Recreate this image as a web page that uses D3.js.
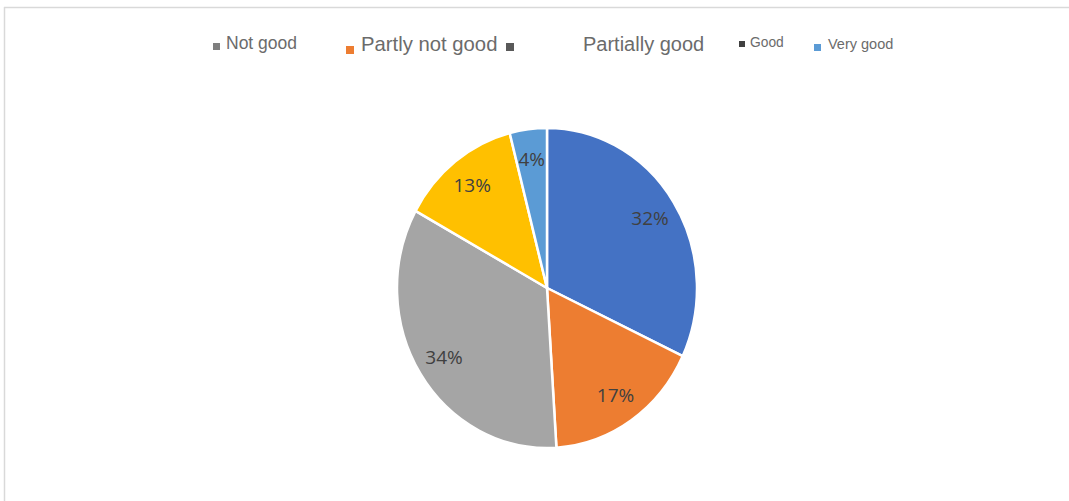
<!DOCTYPE html>
<html>
<head>
<meta charset="utf-8">
<script src="https://cdn.jsdelivr.net/npm/d3@7"></script>
<style>
  body { margin: 0; background: #fff; }
  svg { display: block; }
</style>
</head>
<body>
<svg id="chart"></svg>
<script>
const categories = ["Good", "Partly not good", "Not good", "Partially good", "Very good"];
const values = [32, 17, 34, 13, 4];
const sliceColors = ["#4472C4", "#ED7D31", "#A5A5A5", "#FFC000", "#5B9BD5"];

const legendLabels = ["Not good", "Partly not good", "", "Partially good", "Good", "Very good"];
const legendMarkerColors = ["#7f7f7f", "#ED7D31", "#595959", null, "#404040", "#5B9BD5"];

const width = 1069;
const height = 501;
const svg = d3.select("#chart").attr("width", width).attr("height", height);

// frame (only top and left edges show in the picture)
svg.append("line").attr("x1", 4).attr("y1", 7.5).attr("x2", width).attr("y2", 7.5)
  .attr("stroke", "#d9d9d9").attr("stroke-width", 1.5);
svg.append("line").attr("x1", 4.5).attr("y1", 7).attr("x2", 4.5).attr("y2", height)
  .attr("stroke", "#d9d9d9").attr("stroke-width", 1.5);

// pie
const cx = 547, cy = 288, r = 150, yStretch = 160 / 150;
const pie = d3.pie().sort(null).value((d) => d)(values);
const arc = d3.arc().innerRadius(0).outerRadius(r);
const labelArc = d3.arc().innerRadius(122).outerRadius(122);

const g = svg.append("g").attr("transform", `translate(${cx},${cy}) scale(1,${yStretch})`);
g.selectAll("path")
  .data(pie)
  .join("path")
  .attr("d", arc)
  .attr("fill", (d, i) => sliceColors[i])
  .attr("stroke", "#fff")
  .attr("stroke-width", 2.5)
  .attr("vector-effect", "non-scaling-stroke");

svg.append("g")
  .selectAll("text")
  .data(pie)
  .join("text")
  .attr("x", (d) => cx + labelArc.centroid(d)[0])
  .attr("y", (d) => cy + labelArc.centroid(d)[1] * yStretch)
  .attr("dy", "0.35em")
  .attr("text-anchor", "middle")
  .attr("font-family", "'Open Sans', sans-serif")
  .attr("font-size", 19)
  .attr("fill", "#404040")
  .text((d) => `${d.data}%`);

// legend, reproduced as it appears
const legendItems = [
  { mx: 213, my: 43, ms: 7, tx: 226, ty: 49, fs: 17.5 },
  { mx: 346, my: 46, ms: 8, tx: 361, ty: 51, fs: 20.3 },
  { mx: 506, my: 43, ms: 8, tx: 0, ty: 0, fs: 0 },
  { mx: 0, my: 0, ms: 0, tx: 583, ty: 51, fs: 20 },
  { mx: 739, my: 41, ms: 6, tx: 750, ty: 47, fs: 13.8 },
  { mx: 814, my: 44, ms: 7, tx: 828, ty: 49, fs: 14.5 }
];

const legend = svg.append("g").attr("font-family", "'Liberation Sans', Arial, sans-serif");
legendItems.forEach((it, i) => {
  if (legendMarkerColors[i]) {
    legend.append("rect")
      .attr("x", it.mx).attr("y", it.my)
      .attr("width", it.ms).attr("height", it.ms)
      .attr("fill", legendMarkerColors[i]);
  }
  if (legendLabels[i]) {
    legend.append("text")
      .attr("x", it.tx).attr("y", it.ty)
      .attr("font-size", it.fs)
      .attr("fill", "#6b6b6b")
      .text(legendLabels[i]);
  }
});
</script>
</body>
</html>
